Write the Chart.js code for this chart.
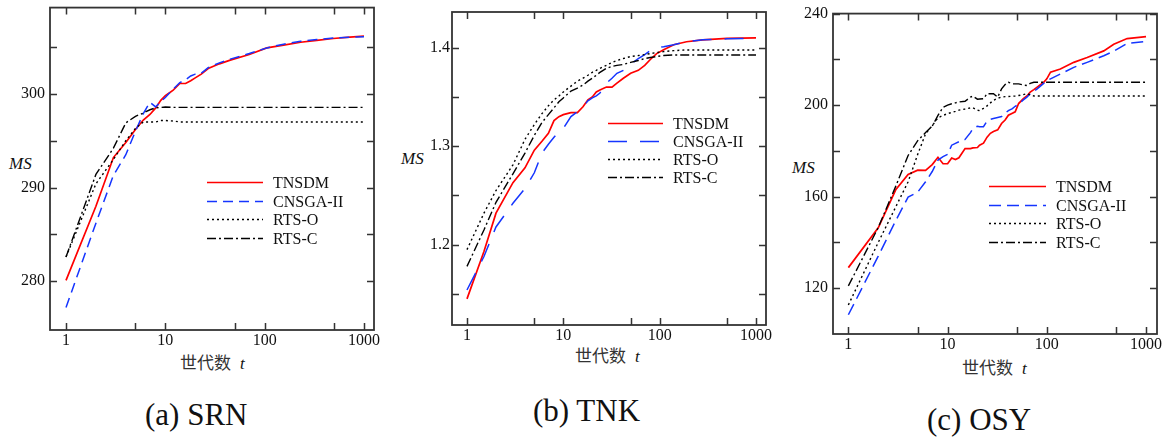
<!DOCTYPE html>
<html><head><meta charset="utf-8">
<script src="https://cdn.jsdelivr.net/npm/chart.js@4.4.1/dist/chart.umd.min.js"></script>
<style>
html,body{margin:0;padding:0;background:#fff;}
body{width:1173px;height:438px;position:relative;overflow:hidden;font-family:'Liberation Serif',serif;color:#111;}
.pane{position:absolute;}
.txt{position:absolute;white-space:nowrap;line-height:1;}
.ms{font-style:italic;font-size:17px;}
.xt{font-size:17px;color:#333;}
.xt .cjk{font-family:'Noto Sans CJK SC',sans-serif;}
.xt .t{font-family:'Liberation Serif',serif;font-style:italic;margin-left:9px;color:#111;}
.cap{font-size:31px;}
</style></head><body>

<div class="txt ms" style="left:9px;top:155px">MS</div>
<div class="txt ms" style="left:401px;top:150px">MS</div>
<div class="txt ms" style="left:792px;top:159px">MS</div>

<div class="txt xt" style="left:180px;top:353px"><span class="cjk">世代数</span><span class="t">t</span></div>
<div class="txt xt" style="left:575px;top:346px"><span class="cjk">世代数</span><span class="t">t</span></div>
<div class="txt xt" style="left:962px;top:358px"><span class="cjk">世代数</span><span class="t">t</span></div>

<div class="txt cap" style="left:145px;top:399px">(a) SRN</div>
<div class="txt cap" style="left:533px;top:395px">(b) TNK</div>
<div class="txt cap" style="left:927px;top:404px">(c) OSY</div>

<script>
// ---------- data ----------
const SERIES_NAMES = ['TNSDM', 'CNSGA-II', 'RTS-O', 'RTS-C'];

const X_TICKS = [1, 5, 10, 50, 100, 500, 1000];
const X_LABELS = ['1', '', '10', '', '100', '', '1000'];

// (a) SRN
const GEN_A = [1,2,3,4,5,6,7,8,9,10,12,14,16,18,20,23,27,35,45,70,105,155,230,335,490,720,1000];
const TNSDM_A = [280.1,288.0,293.2,294.8,296.2,297.2,297.8,298.5,299.3,299.8,300.4,301.1,301.1,301.4,301.7,302.1,302.7,303.2,303.6,304.2,304.9,305.2,305.5,305.7,305.9,306.05,306.15];
const CNSGA_A = [277.2,286.2,291.3,293.5,296.0,297.9,299.1,298.6,299.2,299.6,300.5,301.2,301.5,301.9,302.1,302.2,302.8,303.3,303.7,304.3,304.9,305.3,305.6,305.8,305.95,306.05,306.1];
const RTSO_A = [282.6,290.4,293.0,295.0,296.3,297.0,297.0,297.0,297.15,297.15,297.1,297.0,297.0,297.0,297.0,297.0,297.0,297.0,297.0,297.0,297.0,297.0,297.0,297.0,297.0,297.0,297.0];
const RTSC_A = [282.6,291.4,294.2,296.9,297.6,297.95,298.3,298.5,298.55,298.6,298.55,298.55,298.55,298.55,298.55,298.55,298.55,298.55,298.55,298.55,298.55,298.55,298.55,298.55,298.55,298.55,298.55];
const Y_TICKS_A = [280, 285, 290, 295, 300, 305];
const Y_LABELS_A = ['280', '', '290', '', '300', ''];

// (b) TNK
const GEN_B = [1,1.5,2,3,4,5,6,7,8,9,10,12,14,16,18,20,22,24,28,32,36,42,50,60,70,80,93,110,140,190,280,500,1000];
const TNSDM_B = [1.145,1.193,1.232,1.263,1.278,1.296,1.305,1.313,1.326,1.330,1.332,1.334,1.334,1.340,1.347,1.350,1.355,1.357,1.360,1.360,1.364,1.369,1.374,1.377,1.382,1.388,1.394,1.398,1.403,1.406,1.408,1.4095,1.410];
const CNSGA_B = [1.154,1.188,1.218,1.242,1.257,1.273,1.293,1.302,1.309,1.315,1.318,1.330,1.335,1.340,1.346,1.349,1.351,1.354,1.364,1.369,1.374,1.377,1.383,1.389,1.393,1.397,1.400,1.401,1.403,1.406,1.408,1.409,1.4095];
const RTSO_B = [1.195,1.232,1.255,1.281,1.307,1.322,1.333,1.341,1.347,1.351,1.355,1.361,1.366,1.369,1.372,1.375,1.377,1.379,1.382,1.385,1.387,1.389,1.391,1.392,1.393,1.394,1.395,1.396,1.397,1.3977,1.3977,1.3977,1.3977];
const RTSC_B = [1.178,1.215,1.243,1.272,1.293,1.311,1.324,1.332,1.339,1.345,1.349,1.356,1.359,1.362,1.366,1.369,1.372,1.375,1.379,1.381,1.382,1.383,1.385,1.387,1.389,1.390,1.391,1.392,1.3926,1.3926,1.3926,1.3926,1.3926];
const Y_TICKS_B = [1.15, 1.2, 1.25, 1.3, 1.35, 1.4];
const Y_LABELS_B = ['', '1.2', '', '1.3', '', '1.4'];

// (c) OSY
const GEN_C = [1,2,3,4,5,6,7,8,9,10,11,12,13,15,17,18,20,21,23,25,27,29,32,35,38,41,45,48,52,58,63,68,74,80,93,100,109,137,187,255,375,473,645,1000];
const TNSDM_C = [129.0,146.4,163.0,169.7,171.6,171.5,174.0,177.2,174.4,174.4,176.9,176.2,177.0,181.0,181.0,181.3,181.5,182.5,183.4,186.0,187.7,188.5,189.2,192.0,193.5,195.6,196.5,197.1,200.7,202.8,204.0,205.7,206.8,207.9,210.0,211.5,214.4,215.8,218.7,220.8,223.7,226.6,229.1,229.9];
const CNSGA_C = [108.4,134.0,149.5,159.8,162.0,166.5,171.0,176.0,177.5,178.5,182.5,183.3,184.0,185.0,188.0,189.8,190.8,190.6,190.6,193.0,193.8,194.2,194.6,195.0,196.5,197.6,198.5,199.5,200.3,202.3,203.5,205.0,206.0,207.1,209.5,210.6,211.5,213.6,216.5,218.7,221.6,223.6,227.0,227.8];
const RTSO_C = [112.7,140.0,155.5,166.5,178.5,187.5,191.0,194.5,195.5,196.3,196.8,197.3,197.8,198.3,198.8,198.8,197.8,197.6,198.6,199.7,201.0,202.1,203.0,203.5,203.7,203.8,203.9,204.0,204.2,204.6,205.0,204.5,204.0,204.0,204.0,204.0,204.0,204.0,204.0,204.0,204.0,204.0,204.0,204.0];
const RTSC_C = [121.0,146.5,164.5,178.0,184.5,188.0,190.8,195.5,199.0,200.0,200.6,201.0,201.4,201.7,203.5,203.9,202.6,202.7,202.8,205.0,205.0,205.0,203.5,207.1,209.0,210.0,209.3,209.3,209.3,208.8,208.6,209.5,210.0,210.0,210.0,210.0,210.0,210.0,210.0,210.0,210.0,210.0,210.0,210.0];
const Y_TICKS_C = [120, 140, 160, 180, 200, 220, 240];
const Y_LABELS_C = ['120', '', '160', '', '200', '', '240'];

// ---------- layout / style ----------
const PANELS = [
  { gen: GEN_A, series: [TNSDM_A, CNSGA_A, RTSO_A, RTSC_A], box: {l:50, t:5, r:374, b:330},
    xMin: 0.69, xMax: 1261, yMin: 274.8, yMax: 309.2, yTicks: Y_TICKS_A, yLabels: Y_LABELS_A, yPad: 5,
    blueDash: [10, 6], legend: {x1:207, x2:263, tx:273, y0:182, dy:18.7} },
  { gen: GEN_B, series: [TNSDM_B, CNSGA_B, RTSO_B, RTSC_B], box: {l:452, t:12, r:766, b:325},
    xMin: 0.699, xMax: 1270, yMin: 1.1185, yMax: 1.4362, yTicks: Y_TICKS_B, yLabels: Y_LABELS_B, yPad: 2,
    blueDash: [19, 13], legend: {x1:608, x2:663, tx:673, y0:123, dy:18} },
  { gen: GEN_C, series: [TNSDM_C, CNSGA_C, RTSO_C, RTSC_C], box: {l:833, t:11, r:1157, b:334},
    xMin: 0.706, xMax: 1290, yMin: 100, yMax: 240, yTicks: Y_TICKS_C, yLabels: Y_LABELS_C, yPad: 5,
    blueDash: [12, 6], legend: {x1:989, x2:1046, tx:1056, y0:186, dy:18.7} }
];

const LEFT_W = 50, TOP_P = 12, RIGHT_P = 20, BOTTOM_H = 32;
const TICK_FONT = {family: "'Liberation Serif', serif", size: 16};

const framePlugin = {
  id: 'frame',
  afterDatasetsDraw(chart, args, opts) {
    const {ctx, chartArea: a, scales: {x, y}} = chart;
    ctx.save();
    ctx.strokeStyle = '#333';
    ctx.lineWidth = 1.5;
    ctx.setLineDash([]);
    const L = 7;
    ctx.beginPath();
    x.ticks.forEach(t => {
      const p = Math.round(x.getPixelForValue(t.value)) + 0.5;
      ctx.moveTo(p, a.bottom); ctx.lineTo(p, a.bottom - L);
      ctx.moveTo(p, a.top); ctx.lineTo(p, a.top + L);
    });
    y.ticks.forEach(t => {
      const p = Math.round(y.getPixelForValue(t.value)) + 0.5;
      ctx.moveTo(a.left, p); ctx.lineTo(a.left + L, p);
      ctx.moveTo(a.right, p); ctx.lineTo(a.right - L, p);
    });
    ctx.stroke();
    ctx.lineWidth = 1.8;
    ctx.strokeRect(a.left, a.top, a.right - a.left, a.bottom - a.top);
    const lg = opts.legend;
    chart.data.datasets.forEach((ds, i) => {
      const yy = Math.round(lg.y0 + i * lg.dy) + 0.5;
      ctx.beginPath();
      ctx.strokeStyle = ds.borderColor;
      ctx.lineWidth = ds.borderWidth;
      ctx.setLineDash(ds.borderDash || []);
      ctx.moveTo(lg.x1, yy); ctx.lineTo(lg.x2, yy);
      ctx.stroke();
      ctx.setLineDash([]);
      ctx.fillStyle = '#111';
      ctx.font = "16px 'Liberation Serif', serif";
      ctx.textBaseline = 'middle';
      ctx.textAlign = 'left';
      ctx.fillText(ds.label, lg.tx, yy + 1);
    });
    ctx.restore();
  }
};

PANELS.forEach(P => {
  const left = P.box.l - LEFT_W, top = P.box.t - TOP_P;
  const w = (P.box.r - P.box.l) + LEFT_W + RIGHT_P;
  const h = (P.box.b - P.box.t) + TOP_P + BOTTOM_H;
  const div = document.createElement('div');
  div.className = 'pane';
  div.style.cssText = `left:${left}px;top:${top}px;width:${w}px;height:${h}px;`;
  const cv = document.createElement('canvas');
  cv.width = w; cv.height = h;
  cv.style.width = w + 'px'; cv.style.height = h + 'px';
  div.appendChild(cv);
  document.body.appendChild(div);

  const styles = [
    {color: '#ff0000', dash: [], width: 1.7},
    {color: '#1535ff', dash: P.blueDash, width: 1.5},
    {color: '#000000', dash: [2, 3], width: 1.4},
    {color: '#000000', dash: [9, 3, 2, 3], width: 1.4}
  ];
  const datasets = P.series.map((vals, i) => ({
    label: SERIES_NAMES[i],
    data: P.gen.map((g, k) => ({x: g, y: vals[k]})),
    borderColor: styles[i].color,
    borderDash: styles[i].dash,
    borderWidth: styles[i].width,
    pointRadius: 0,
    tension: 0,
    fill: false
  })).reverse();
  // draw order: black lines first, red on top; legend order restored in plugin options
  const legendOrder = datasets.slice().reverse();

  new Chart(cv, {
    type: 'line',
    data: {datasets},
    options: {
      responsive: false,
      animation: false,
      devicePixelRatio: 1,
      layout: {padding: {left: 0, top: TOP_P, right: RIGHT_P, bottom: 0}},
      plugins: {
        legend: {display: false},
        tooltip: {enabled: false},
        frame: {legend: {x1: P.legend.x1 - left, x2: P.legend.x2 - left, tx: P.legend.tx - left,
                         y0: P.legend.y0 - top, dy: P.legend.dy}}
      },
      scales: {
        x: {
          type: 'logarithmic', min: P.xMin, max: P.xMax,
          afterBuildTicks: s => { s.ticks = X_TICKS.map(v => ({value: v})); },
          afterFit: s => { s.height = BOTTOM_H; },
          grid: {display: false, drawTicks: false},
          border: {display: false},
          ticks: {autoSkip: false, maxRotation: 0, minRotation: 0, padding: 1, font: TICK_FONT, color: '#111',
                  callback: (v, i) => X_LABELS[i]}
        },
        y: {
          type: 'linear', min: P.yMin, max: P.yMax,
          afterBuildTicks: s => { s.ticks = P.yTicks.map(v => ({value: v})); },
          afterFit: s => { s.width = LEFT_W; },
          grid: {display: false, drawTicks: false},
          border: {display: false},
          ticks: {autoSkip: false, padding: P.yPad, font: TICK_FONT, color: '#111',
                  callback: (v, i) => P.yLabels[i]}
        }
      }
    },
    plugins: [{
      id: 'frame',
      afterDatasetsDraw(chart, args) {
        // swap datasets temporarily so legend lists in original order
        const saved = chart.data.datasets;
        chart.data.datasets = legendOrder;
        framePlugin.afterDatasetsDraw(chart, args, chart.options.plugins.frame);
        chart.data.datasets = saved;
      }
    }]
  });
});
</script>
</body></html>
